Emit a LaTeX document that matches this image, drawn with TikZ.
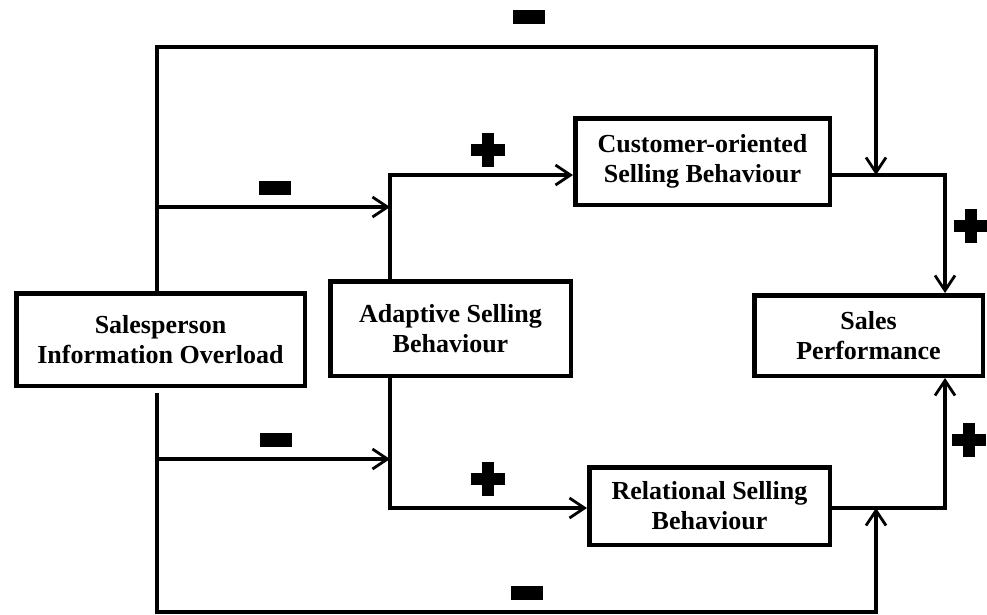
\documentclass[tikz,border=0pt]{standalone}
\usepackage{fontspec}
\setmainfont{Liberation Serif}
\usetikzlibrary{arrows.meta}
\begin{document}
\begin{tikzpicture}[x=1pt,y=-1pt,
  box/.style={draw,line width=4.5pt,align=center,inner sep=0pt,
    font=\fontsize{26}{30}\selectfont\bfseries},
  conn/.style={line width=3.2pt},
  arr/.style={conn,-{Straight Barb[length=15pt,width=20pt,line width=2.8pt]}},
  plussign/.pic={\fill (-17,-6) rectangle (17,6); \fill (-6,-17) rectangle (6,17);},
  minussign/.pic={\fill (-16,-7) rectangle (16,7);}
]
\useasboundingbox (0,0) rectangle (987,614);

% boxes
\node[box,minimum width=288.5,minimum height=92.5] (so) at (160.5,339.5) {Salesperson\\Information Overload};
\node[box,minimum width=240.5,minimum height=94.5] (ad) at (450.5,328.5) {Adaptive Selling\\Behaviour};
\node[box,minimum width=254.5,minimum height=86.5] (cu) at (702.5,161.5) {Customer-oriented\\Selling Behaviour};
\node[box,minimum width=240.5,minimum height=77.5] (re) at (709.5,506) {Relational Selling\\Behaviour};
\node[box,minimum width=228.5,minimum height=80.5] (sp) at (868.5,335.5) {Sales\\Performance};

% junction coordinates
\coordinate (top) at (157,47);
\coordinate (bot) at (157,612);
\coordinate (b1) at (157,207);
\coordinate (b2) at (157,459);
\coordinate (a1) at (390,175);
\coordinate (a2) at (390,508);
\coordinate (j1) at (876,175);
\coordinate (j2) at (876,508);
\coordinate (c1) at (945,175);
\coordinate (c2) at (945,508);

% connectors
\draw[arr] (so.north -| top) -- (top) -| (j1);
\draw[arr] (b1) -- (b1 -| a1);
\draw[arr] (ad.north -| a1) -- (a1) -- (cu.west |- a1);
\draw[arr] (cu.east |- c1) -- (c1) -- (sp.north -| c1);
\draw[arr] ([yshift=-5pt]so.south -| bot) -- (bot) -| (j2);
\draw[arr] (b2) -- (b2 -| a2);
\draw[arr] (ad.south -| a2) -- (a2) -- (re.west |- a2);
\draw[arr] (re.east |- c2) -- (c2) -- (sp.south -| c2);

% signs
\pic at (529,17) {minussign};
\pic at (275,188) {minussign};
\pic at (276,440) {minussign};
\pic at (527,593) {minussign};
\pic at (488,150) {plussign};
\pic at (488,479) {plussign};
\pic at (971,226) {plussign};
\pic at (969,440) {plussign};
\end{tikzpicture}
\end{document}
